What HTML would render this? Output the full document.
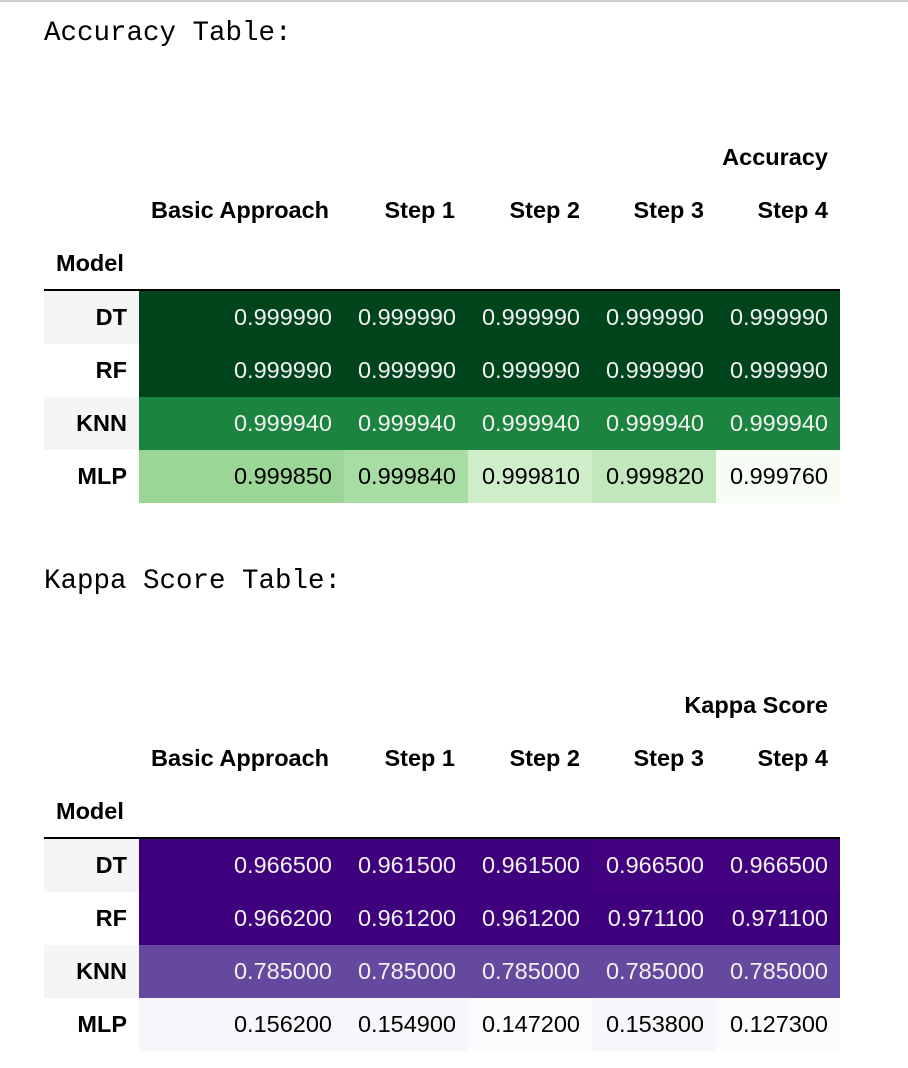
<!DOCTYPE html>
<html><head><meta charset="utf-8"><style>
html,body{margin:0;padding:0;background:#fff;width:908px;height:1068px;overflow:hidden;position:relative;font-family:"Liberation Sans",Arial,sans-serif;}
.topline{position:absolute;left:0;top:0;width:908px;height:2px;background:#cfcfcf;box-shadow:0 2px 6px rgba(0,0,0,0.06);}
.title{position:absolute;left:44px;font-family:"Liberation Mono","Courier New",monospace;font-size:27.5px;line-height:30px;color:#000;white-space:pre;}
.t{position:absolute;font-size:23.5px;line-height:30px;white-space:nowrap;}
.b{font-weight:bold;color:#000;}
.row{position:absolute;left:44px;width:796px;height:53px;display:flex;}
.row div{height:53px;line-height:53px;font-size:23.5px;text-align:right;box-sizing:border-box;padding-right:12px;white-space:nowrap;}
.row .lab{width:95px;font-weight:bold;color:#000;}
.c1{width:205px}.c2,.c3,.c4,.c5{width:124px}
.w{color:#f1f1f1}.k{color:#000}
.line{position:absolute;left:44px;width:796px;height:2px;background:#000;}
</style></head><body>
<div class="topline"></div>
<div class="title" style="top:19px">Accuracy Table:</div>
<div class="t b" style="right:80px;top:142px">Accuracy</div>
<div class="t b" style="left:151px;top:195px">Basic Approach</div>
<div class="t b" style="right:453px;top:195px">Step 1</div>
<div class="t b" style="right:328px;top:195px">Step 2</div>
<div class="t b" style="right:204px;top:195px">Step 3</div>
<div class="t b" style="right:80px;top:195px">Step 4</div>
<div class="t b" style="left:56px;top:248px">Model</div>
<div class="line" style="top:289px"></div>
<div class="row" style="top:291px"><div class="lab" style="background:#f5f5f5">DT</div><div class="c1 w" style="background:#00441b">0.999990</div><div class="c2 w" style="background:#00441b">0.999990</div><div class="c3 w" style="background:#00441b">0.999990</div><div class="c4 w" style="background:#00441b">0.999990</div><div class="c5 w" style="background:#00441b">0.999990</div></div>
<div class="row" style="top:344px"><div class="lab" style="background:#fff">RF</div><div class="c1 w" style="background:#00441b">0.999990</div><div class="c2 w" style="background:#00441b">0.999990</div><div class="c3 w" style="background:#00441b">0.999990</div><div class="c4 w" style="background:#00441b">0.999990</div><div class="c5 w" style="background:#00441b">0.999990</div></div>
<div class="row" style="top:397px"><div class="lab" style="background:#f5f5f5">KNN</div><div class="c1 w" style="background:#1b843f">0.999940</div><div class="c2 w" style="background:#1b843f">0.999940</div><div class="c3 w" style="background:#1b843f">0.999940</div><div class="c4 w" style="background:#1b843f">0.999940</div><div class="c5 w" style="background:#1b843f">0.999940</div></div>
<div class="row" style="top:450px"><div class="lab" style="background:#fff">MLP</div><div class="c1 k" style="background:#9bd696">0.999850</div><div class="c2 k" style="background:#a7dca2">0.999840</div><div class="c3 k" style="background:#d0edca">0.999810</div><div class="c4 k" style="background:#c3e7bc">0.999820</div><div class="c5 k" style="background:#f7fcf5">0.999760</div></div>

<div class="title" style="top:567px">Kappa Score Table:</div>
<div class="t b" style="right:80px;top:690px">Kappa Score</div>
<div class="t b" style="left:151px;top:743px">Basic Approach</div>
<div class="t b" style="right:453px;top:743px">Step 1</div>
<div class="t b" style="right:328px;top:743px">Step 2</div>
<div class="t b" style="right:204px;top:743px">Step 3</div>
<div class="t b" style="right:80px;top:743px">Step 4</div>
<div class="t b" style="left:56px;top:796px">Model</div>
<div class="line" style="top:837px"></div>
<div class="row" style="top:839px"><div class="lab" style="background:#f5f5f5">DT</div><div class="c1 w" style="background:#3f007d">0.966500</div><div class="c2 w" style="background:#3f007d">0.961500</div><div class="c3 w" style="background:#3f007d">0.961500</div><div class="c4 w" style="background:#42027f">0.966500</div><div class="c5 w" style="background:#42027f">0.966500</div></div>
<div class="row" style="top:892px"><div class="lab" style="background:#fff">RF</div><div class="c1 w" style="background:#3f007d">0.966200</div><div class="c2 w" style="background:#3f007d">0.961200</div><div class="c3 w" style="background:#3f007d">0.961200</div><div class="c4 w" style="background:#3f007d">0.971100</div><div class="c5 w" style="background:#3f007d">0.971100</div></div>
<div class="row" style="top:945px"><div class="lab" style="background:#f5f5f5">KNN</div><div class="c1 w" style="background:#65499e">0.785000</div><div class="c2 w" style="background:#65499e">0.785000</div><div class="c3 w" style="background:#65499e">0.785000</div><div class="c4 w" style="background:#65499e">0.785000</div><div class="c5 w" style="background:#65499e">0.785000</div></div>
<div class="row" style="top:998px"><div class="lab" style="background:#fff">MLP</div><div class="c1 k" style="background:#f8f6fa">0.156200</div><div class="c2 k" style="background:#f8f6fa">0.154900</div><div class="c3 k" style="background:#fcfbfd">0.147200</div><div class="c4 k" style="background:#f8f6fa">0.153800</div><div class="c5 k" style="background:#fcfbfd">0.127300</div></div>
</body></html>
